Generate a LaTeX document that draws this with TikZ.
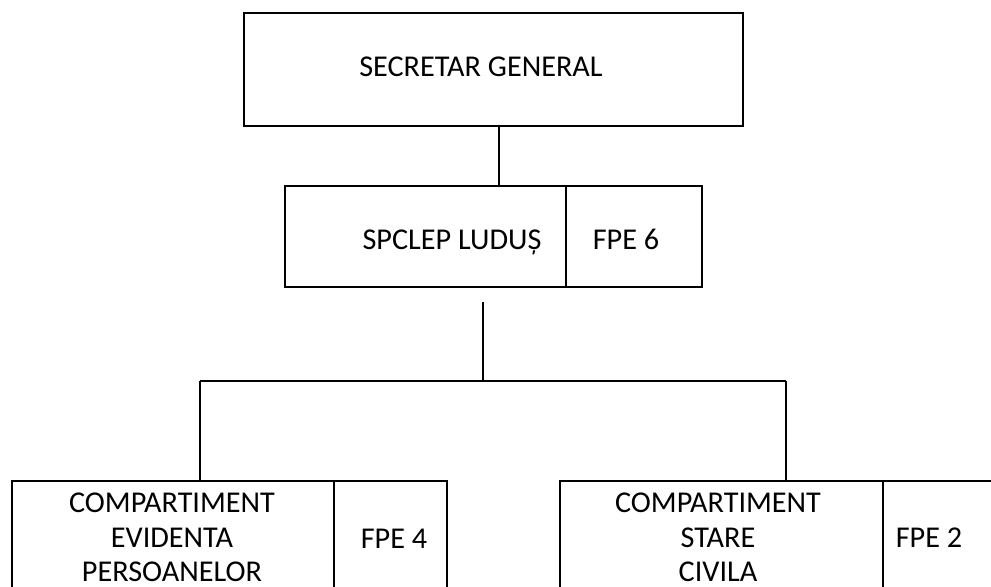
\documentclass[tikz,border=0pt]{standalone}
\usepackage{fontspec}
\setmainfont{Carlito}
\usetikzlibrary{positioning}

\begin{document}
\begin{tikzpicture}[x=0.02cm, y=-0.02cm, line width=1pt,
	cell/.style={draw, inner sep=0pt, outer sep=0pt},
	txt/.style={font=\fontsize{17.2}{19.9}\selectfont, align=center, inner sep=0pt, anchor=base}]
	\useasboundingbox (0,0) rectangle (991,587);
	\clip (0,0) rectangle (991,587);

	\node[cell, minimum width=9.98cm, minimum height=2.26cm] (sg) at (493.5,69.5) {};
	\node[cell, minimum width=5.62cm, minimum height=2.02cm] (ludus) at (425.5,236.5) {};
	\node[cell, minimum width=2.72cm, minimum height=2.02cm, right=0pt of ludus] (ludusfpe) {};
	\node[cell, minimum width=6.44cm, minimum height=2.3cm] (evid) at (173,538.5) {};
	\node[cell, minimum width=2.26cm, minimum height=2.3cm, right=0pt of evid] (evidfpe) {};
	\node[cell, minimum width=6.46cm, minimum height=2.3cm] (stare) at (721.5,538.5) {};
	\node[cell, minimum width=2.6cm, minimum height=2.3cm, right=0pt of stare] (starefpe) {};

	\node[txt] (sgtext) at (481,77) {SECRETAR GENERAL};
	\node[txt] (ludustext) at (452,250) {SPCLEP LUDUȘ};
	\node[txt] (ludusnr) at (626,250) {FPE 6};
	\node[txt] (evidtext) at (172,582) {COMPARTIMENT\\EVIDENTA\\PERSOANELOR};
	\node[txt] (evidnr) at (394,548) {FPE 4};
	\node[txt] (staretext) at (718,582) {COMPARTIMENT\\STARE\\CIVILA};
	\node[txt] (starenr) at (929,547) {FPE 2};

	\coordinate (drop) at (499,150);
	\coordinate (stem) at (483,302);
	\coordinate (fork) at (483,381);
	\coordinate (forkL) at (200,381);
	\coordinate (forkR) at (786,381);

	\draw (drop |- sg.south) -- (drop |- ludus.north);
	\draw (stem) -- (fork);
	\draw (forkL) -- (forkR);
	\draw (forkL) -- (forkL |- evid.north);
	\draw (forkR) -- (forkR |- stare.north);
\end{tikzpicture}
\end{document}
